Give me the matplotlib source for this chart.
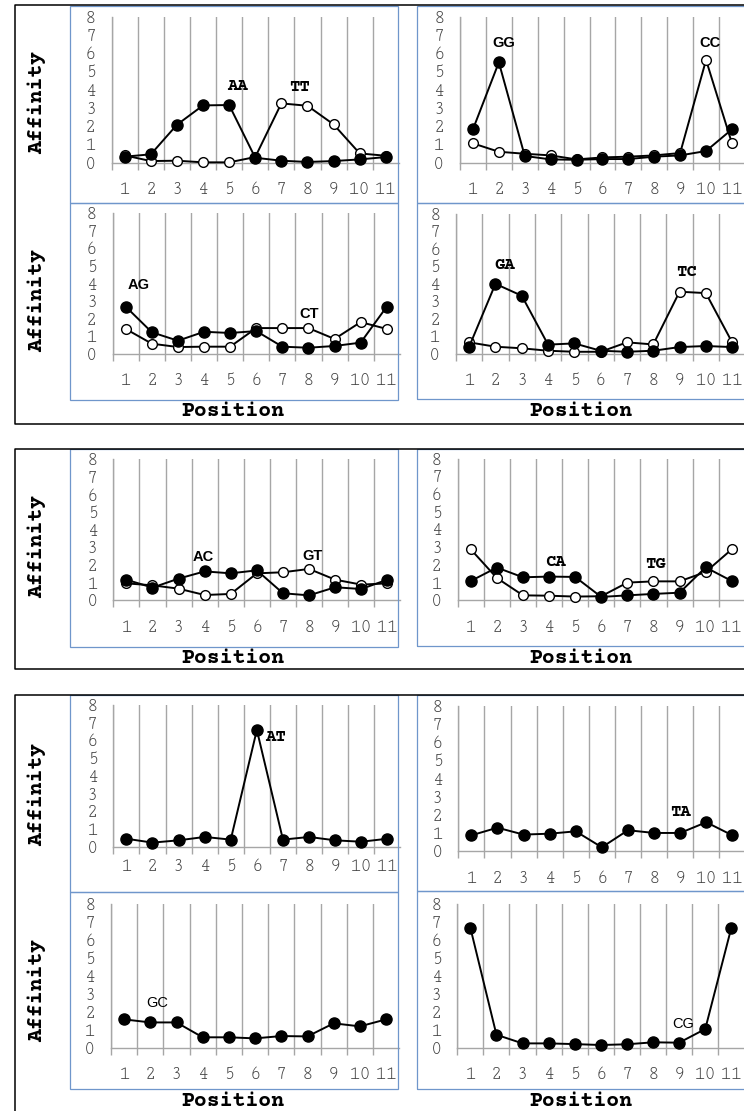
import numpy as np
import matplotlib
matplotlib.use("Agg")
import matplotlib.pyplot as plt
from matplotlib.patches import Rectangle
from matplotlib.lines import Line2D

# positions along the 11-mer
positions = list(range(1, 12))

# affinity profiles (filled = first label, open = second)
aa = [0.33, 0.46, 2.08, 3.14, 3.16, 0.27, 0.11, 0.04, 0.09, 0.18, 0.31]
tt = [0.40, 0.09, 0.11, 0.02, 0.02, 0.31, 3.25, 3.12, 2.10, 0.51, 0.38]
gg = [1.83, 5.50, 0.37, 0.18, 0.16, 0.20, 0.20, 0.33, 0.40, 0.64, 1.83]
cc = [1.06, 0.60, 0.49, 0.40, 0.18, 0.29, 0.33, 0.40, 0.53, 5.63, 1.06]
ag = [2.68, 1.22, 0.74, 1.25, 1.18, 1.29, 0.40, 0.34, 0.44, 0.63, 2.68]
ct = [1.41, 0.57, 0.38, 0.40, 0.40, 1.46, 1.46, 1.46, 0.84, 1.80, 1.41]
ga = [0.40, 4.00, 3.32, 0.52, 0.59, 0.17, 0.11, 0.17, 0.38, 0.44, 0.38]
tc = [0.65, 0.40, 0.31, 0.17, 0.11, 0.11, 0.65, 0.53, 3.55, 3.47, 0.65]
ac = [1.17, 0.72, 1.23, 1.64, 1.53, 1.70, 0.40, 0.28, 0.74, 0.64, 1.17]
gt = [0.96, 0.85, 0.66, 0.30, 0.36, 1.53, 1.59, 1.78, 1.17, 0.89, 0.96]
ca = [1.09, 1.85, 1.30, 1.34, 1.32, 0.19, 0.28, 0.36, 0.43, 1.86, 1.09]
tg = [2.88, 1.26, 0.28, 0.26, 0.21, 0.23, 1.00, 1.07, 1.07, 1.60, 2.88]
at = [0.45, 0.23, 0.36, 0.55, 0.40, 6.59, 0.40, 0.55, 0.36, 0.28, 0.45]
ta = [0.88, 1.30, 0.92, 0.97, 1.10, 0.22, 1.16, 1.01, 1.01, 1.60, 0.88]
gc = [1.58, 1.41, 1.41, 0.58, 0.58, 0.52, 0.65, 0.63, 1.36, 1.19, 1.58]
cg = [6.68, 0.72, 0.24, 0.24, 0.20, 0.15, 0.19, 0.30, 0.28, 1.04, 6.68]

W, H = 744, 1111
MONO = ["Courier Prime", "Liberation Mono", "DejaVu Sans Mono"]
TICKS = ["Cutive Mono", "Courier Prime", "Liberation Mono"]
SANS = ["Liberation Sans", "DejaVu Sans"]
GRID = "#a6a6a6"
BLUE = "#6f96cb"

plt.rcParams["font.family"] = MONO

fig = plt.figure(figsize=(W / 100, H / 100), dpi=100)


def fx(x):
    return x / W


def fy(y):
    return 1 - y / H


def panneau(x0, y8, y0, pas, pad_x, series, labels):
    ax = fig.add_axes([fx(x0), fy(y0), 11 * pas / W, (y0 - y8) / H])
    ax.set_facecolor("none")
    ax.set_xlim(0.5, 11.5)
    ax.set_ylim(0, 8)
    ax.set_xticks(positions)
    ax.set_xticks(np.arange(0.5, 11, 1), minor=True)
    ax.set_yticks(range(9))
    ax.tick_params(axis="x", which="major", length=0, pad=pad_x,
                   labelsize=13.5, labelcolor="#404040")
    ax.tick_params(axis="x", which="minor", length=5, color=GRID, width=1)
    ax.tick_params(axis="y", length=0, pad=11, labelsize=13.5, labelcolor="#404040")
    for lab in ax.get_xticklabels() + ax.get_yticklabels():
        lab.set_family(TICKS)
    ax.grid(axis="x", which="minor", color=GRID, lw=1)
    ax.set_axisbelow(True)
    for s in ["top", "right"]:
        ax.spines[s].set_visible(False)
    for s in ["left", "bottom"]:
        ax.spines[s].set_color(GRID)
        ax.spines[s].set_linewidth(1)

    # open series first, filled on top
    for kind, vals in reversed(series):
        if kind == "open":
            ax.plot(positions, vals, "-o", color="black", lw=1.4, ms=7,
                    mfc="white", mec="black", mew=1, clip_on=False, zorder=3)
        else:
            ax.plot(positions, vals, "-o", color="black", lw=1.4, ms=8,
                    mfc="black", mec="black", clip_on=False, zorder=4)
    for txt, x, y, fam, wt, size in labels:
        ax.text(x, y, txt, ha="center", va="center", family=fam,
                fontweight=wt, fontsize=size, color="black", zorder=5)
    return ax


# group 1
panneau(111.7, 16.7, 162.7, 26.1, 14, [("filled", aa), ("open", tt)],
        [("AA", 5.31, 4.2, MONO, "bold", 12.5), ("TT", 7.68, 4.13, MONO, "bold", 12.5)])
panneau(460, 16.7, 162.7, 25.9, 14, [("filled", gg), ("open", cc)],
        [("GG", 2.2, 6.58, SANS, "bold", 10.5), ("CC", 10.15, 6.58, SANS, "bold", 10.5)])
panneau(112.7, 213.3, 353.7, 26.1, 14, [("filled", ag), ("open", ct)],
        [("AG", 1.48, 3.92, SANS, "bold", 10.5), ("CT", 8.03, 2.24, SANS, "bold", 10.5)])
panneau(456, 214, 353.7, 26.3, 14, [("filled", ga), ("open", tc)],
        [("GA", 2.34, 5.08, MONO, "bold", 12.5), ("TC", 9.25, 4.69, MONO, "bold", 12.5)])
# group 2
panneau(113.3, 459.3, 600.3, 26.1, 14, [("filled", ac), ("open", gt)],
        [("AC", 3.95, 2.48, SANS, "bold", 10.5), ("GT", 8.12, 2.51, SANS, "bold", 10.5)])
panneau(457.7, 458.7, 600.3, 26.1, 14, [("filled", ca), ("open", tg)],
        [("CA", 4.23, 2.17, MONO, "bold", 12.5), ("TG", 8.06, 2.05, MONO, "bold", 12.5)])
# group 3
panneau(113.3, 705, 846.7, 26.1, 9, [("filled", at)],
        [("AT", 6.73, 6.21, MONO, "bold", 12.5)])
panneau(458.3, 706, 851.3, 26.1, 14, [("filled", ta)],
        [("TA", 9.0, 2.18, MONO, "bold", 12.5)])
panneau(111, 904.3, 1047.7, 26.2, 14, [("filled", gc)],
        [("GC", 2.28, 2.47, SANS, "normal", 10.5)])
panneau(457.3, 904, 1047.7, 26.1, 14, [("filled", cg)],
        [("CG", 9.16, 1.32, SANS, "normal", 10.5)])

# blue chart-area borders
bords = [
    (70, 6, 398, 203), (70, 203, 398, 400), (417, 6, 760, 203), (417, 203, 760, 399),
    (70, 449, 398, 647), (417, 449, 760, 646),
    (70, 695, 398, 892), (70, 892, 398, 1089), (417, 695, 760, 891), (417, 891, 760, 1089),
]
for x1, y1, x2, y2 in bords:
    fig.add_artist(Rectangle((fx(x1), fy(y2)), (x2 - x1) / W, (y2 - y1) / H,
                             transform=fig.transFigure, fill=False,
                             edgecolor=BLUE, lw=0.9, zorder=1))

# black group frames
for top, bottom in [(5, 424), (449, 669), (695, 1120)]:
    fig.add_artist(Line2D([fx(760), fx(15), fx(15), fx(760)],
                          [fy(top), fy(top), fy(bottom), fy(bottom)],
                          transform=fig.transFigure, color="black", lw=1.1))

# axis titles
for y in [103, 301, 547, 794, 991]:
    fig.text(fx(37), fy(y), "Affinity", rotation=90, ha="center", va="center",
             fontweight="bold", fontsize=15.5)
for y in [411, 658, 1100.7]:
    for x in [233, 581]:
        fig.text(fx(x), fy(y), "Position", ha="center", va="center",
                 fontweight="bold", fontsize=15.5)

fig.savefig("out.png", dpi=100)
